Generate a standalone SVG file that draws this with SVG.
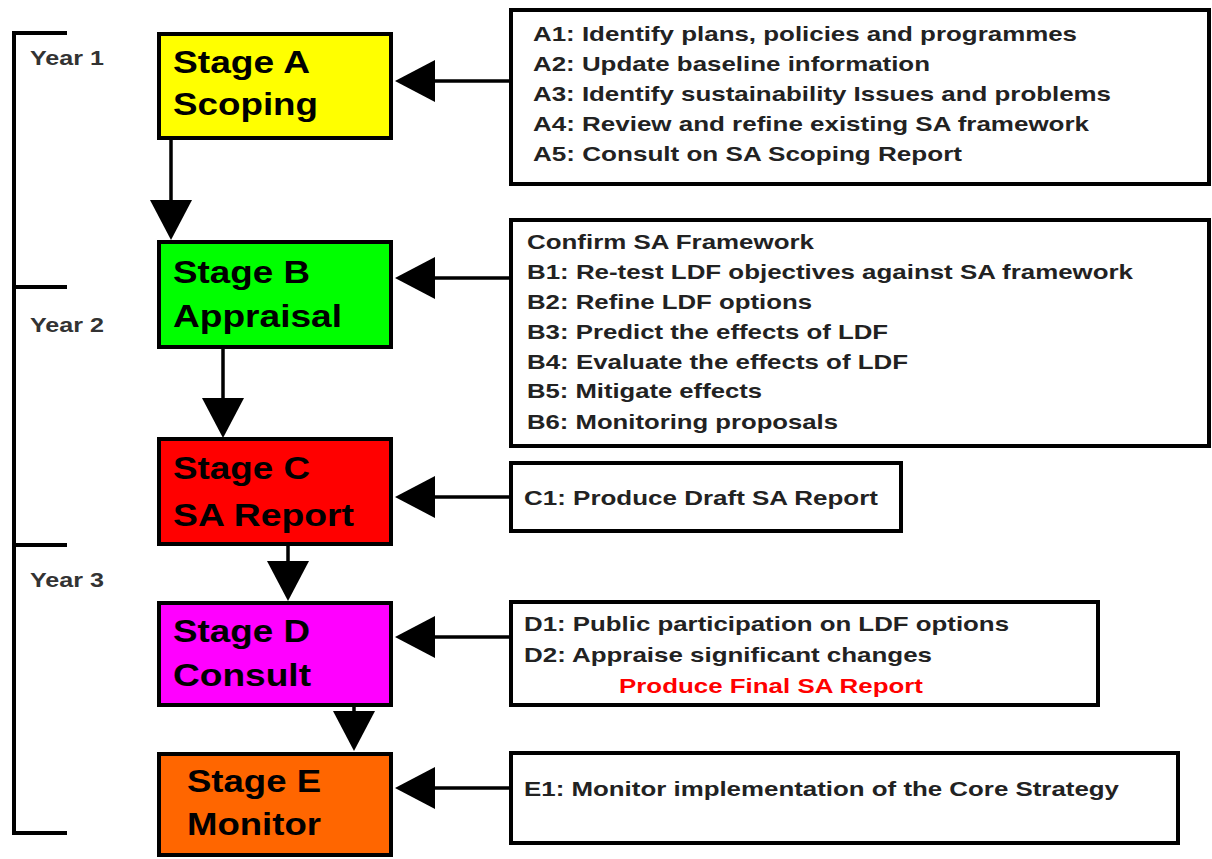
<svg xmlns="http://www.w3.org/2000/svg" width="1212" height="859" viewBox="0 0 1212 859">
  <style>
    .stage { stroke: #000; stroke-width: 4; }
    .task { fill: #fff; stroke: #000; stroke-width: 4; }
    .stage-label { font-family: "Liberation Sans", Arial, sans-serif; font-weight: bold; font-size: 32px; fill: #000; }
    .task-label { font-family: "Liberation Sans", Arial, sans-serif; font-weight: bold; font-size: 21px; fill: #222; }
    .year { font-family: "Liberation Sans", Arial, sans-serif; font-weight: bold; font-size: 20px; fill: #333; }
    .link { stroke: #000; stroke-width: 3.5; fill: none; }
    .bracket { stroke: #000; stroke-width: 4; fill: none; }
  </style>
  <defs>
    <marker id="head" markerUnits="userSpaceOnUse" markerWidth="40" markerHeight="42" refX="0" refY="21" orient="auto" viewBox="0 0 40 42">
      <path d="M0,0 L40,21 L0,42 Z" fill="#000"/>
    </marker>
  </defs>
  <rect width="1212" height="859" fill="#fff"/>

  <!-- timeline bracket with year labels -->
  <g id="timeline">
    <path class="bracket" d="M67,33 H14 V833 H67 M14,287 H67 M14,545 H67"/>
    <text class="year" x="30" y="65" textLength="74" lengthAdjust="spacingAndGlyphs">Year 1</text>
    <text class="year" x="30" y="332" textLength="74" lengthAdjust="spacingAndGlyphs">Year 2</text>
    <text class="year" x="30" y="587" textLength="74" lengthAdjust="spacingAndGlyphs">Year 3</text>
  </g>

  <!-- connectors -->
  <g id="connectors">
    <line class="link" x1="171" y1="140" x2="171" y2="200" marker-end="url(#head)"/>
    <line class="link" x1="223" y1="349" x2="223" y2="398" marker-end="url(#head)"/>
    <line class="link" x1="288" y1="546" x2="288" y2="561" marker-end="url(#head)"/>
    <line class="link" x1="354" y1="707" x2="354" y2="711" marker-end="url(#head)"/>
    <line class="link" x1="510" y1="81" x2="435" y2="81" marker-end="url(#head)"/>
    <line class="link" x1="510" y1="278" x2="435" y2="278" marker-end="url(#head)"/>
    <line class="link" x1="510" y1="497" x2="435" y2="497" marker-end="url(#head)"/>
    <line class="link" x1="510" y1="637" x2="435" y2="637" marker-end="url(#head)"/>
    <line class="link" x1="510" y1="788" x2="435" y2="788" marker-end="url(#head)"/>
  </g>

  <!-- stages -->
  <g id="stage-a">
    <rect class="stage" x="159" y="34" width="232" height="104" fill="#ffff00"/>
    <text class="stage-label" x="173" y="73" textLength="137" lengthAdjust="spacingAndGlyphs">Stage A</text>
    <text class="stage-label" x="173" y="115" textLength="145" lengthAdjust="spacingAndGlyphs">Scoping</text>
  </g>
  <g id="stage-b">
    <rect class="stage" x="159" y="242" width="232" height="105" fill="#00ff00"/>
    <text class="stage-label" x="173" y="283" textLength="137" lengthAdjust="spacingAndGlyphs">Stage B</text>
    <text class="stage-label" x="173" y="327" textLength="169" lengthAdjust="spacingAndGlyphs">Appraisal</text>
  </g>
  <g id="stage-c">
    <rect class="stage" x="159" y="439" width="232" height="105" fill="#ff0000"/>
    <text class="stage-label" x="173" y="479" textLength="137" lengthAdjust="spacingAndGlyphs">Stage C</text>
    <text class="stage-label" x="173" y="526" textLength="181" lengthAdjust="spacingAndGlyphs">SA Report</text>
  </g>
  <g id="stage-d">
    <rect class="stage" x="159" y="603" width="232" height="102" fill="#ff00ff"/>
    <text class="stage-label" x="173" y="642" textLength="137" lengthAdjust="spacingAndGlyphs">Stage D</text>
    <text class="stage-label" x="173" y="686" textLength="138" lengthAdjust="spacingAndGlyphs">Consult</text>
  </g>
  <g id="stage-e">
    <rect class="stage" x="159" y="754" width="232" height="101" fill="#ff6600"/>
    <text class="stage-label" x="187" y="792" textLength="134" lengthAdjust="spacingAndGlyphs">Stage E</text>
    <text class="stage-label" x="187" y="835" textLength="134" lengthAdjust="spacingAndGlyphs">Monitor</text>
  </g>

  <!-- task boxes -->
  <g id="tasks-a">
    <rect class="task" x="511" y="10" width="698" height="174"/>
    <text class="task-label" x="533" y="41" textLength="544" lengthAdjust="spacingAndGlyphs">A1: Identify plans, policies and programmes</text>
    <text class="task-label" x="533" y="71" textLength="397" lengthAdjust="spacingAndGlyphs">A2: Update baseline information</text>
    <text class="task-label" x="533" y="101" textLength="578" lengthAdjust="spacingAndGlyphs">A3: Identify sustainability Issues and problems</text>
    <text class="task-label" x="533" y="131" textLength="556" lengthAdjust="spacingAndGlyphs">A4: Review and refine existing SA framework</text>
    <text class="task-label" x="533" y="161" textLength="429" lengthAdjust="spacingAndGlyphs">A5: Consult on SA Scoping Report</text>
  </g>
  <g id="tasks-b">
    <rect class="task" x="511" y="220" width="698" height="226"/>
    <text class="task-label" x="527" y="249" textLength="287" lengthAdjust="spacingAndGlyphs">Confirm SA Framework</text>
    <text class="task-label" x="527" y="279" textLength="606" lengthAdjust="spacingAndGlyphs">B1: Re-test LDF objectives against SA framework</text>
    <text class="task-label" x="527" y="309" textLength="285" lengthAdjust="spacingAndGlyphs">B2: Refine LDF options</text>
    <text class="task-label" x="527" y="339" textLength="361" lengthAdjust="spacingAndGlyphs">B3: Predict the effects of LDF</text>
    <text class="task-label" x="527" y="369" textLength="381" lengthAdjust="spacingAndGlyphs">B4: Evaluate the effects of LDF</text>
    <text class="task-label" x="527" y="398" textLength="235" lengthAdjust="spacingAndGlyphs">B5: Mitigate effects</text>
    <text class="task-label" x="527" y="429" textLength="311" lengthAdjust="spacingAndGlyphs">B6: Monitoring proposals</text>
  </g>
  <g id="tasks-c">
    <rect class="task" x="511" y="463" width="390" height="68"/>
    <text class="task-label" x="524" y="505" textLength="354" lengthAdjust="spacingAndGlyphs">C1: Produce Draft SA Report</text>
  </g>
  <g id="tasks-d">
    <rect class="task" x="511" y="602" width="587" height="103"/>
    <text class="task-label" x="524" y="631" textLength="485" lengthAdjust="spacingAndGlyphs">D1: Public participation on LDF options</text>
    <text class="task-label" x="524" y="662" textLength="408" lengthAdjust="spacingAndGlyphs">D2: Appraise significant changes</text>
    <text class="task-label" x="619" y="693" textLength="304" lengthAdjust="spacingAndGlyphs" style="fill:#ff0000">Produce Final SA Report</text>
  </g>
  <g id="tasks-e">
    <rect class="task" x="511" y="753" width="667" height="90"/>
    <text class="task-label" x="524" y="796" textLength="595" lengthAdjust="spacingAndGlyphs">E1: Monitor implementation of the Core Strategy</text>
  </g>
</svg>
